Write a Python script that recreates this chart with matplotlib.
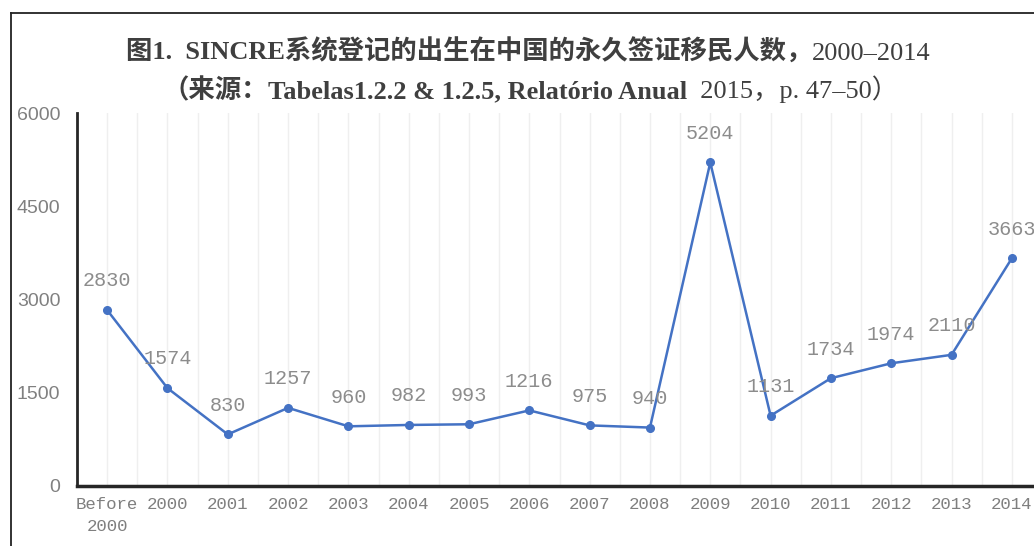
import matplotlib
matplotlib.use("Agg")
import matplotlib.pyplot as plt
from matplotlib.lines import Line2D

categories = ["Before\n2000", "2000", "2001", "2002", "2003", "2004", "2005", "2006",
              "2007", "2008", "2009", "2010", "2011", "2012", "2013", "2014"]
values = [2830, 1574, 830, 1257, 960, 982, 993, 1216, 975, 940, 5204, 1131, 1734, 1974, 2110, 3663]
yticks = [0, 1500, 3000, 4500, 6000]

W, H = 1034, 546
fig = plt.figure(figsize=(W / 100, H / 100), dpi=100)
fig.patch.set_facecolor("white")

left_px, right_px, top_px, bot_px = 77, 1042, 113, 486
ax = fig.add_axes([left_px / W, 1 - bot_px / H, (right_px - left_px) / W, (bot_px - top_px) / H])

x = list(range(len(categories)))
ax.plot(x, values, color="#4472C4", linewidth=1.8, marker="o", markersize=5.5, zorder=3, clip_on=False)

lab_font = ["Liberation Mono", "DejaVu Sans"]
for xi, v in zip(x, values):
    ax.annotate(str(v), (xi, v), xytext=(0, 21), textcoords="offset points",
                ha="center", va="center", fontsize=14.5, color="#8C8C8C", family=lab_font,
                annotation_clip=False)

ax.set_xlim(-0.5, len(categories) - 0.5)
ax.set_ylim(0, 6000)
ax.set_yticks(yticks)
ax.set_yticklabels([str(t) for t in yticks], family=["Liberation Sans"], fontsize=14, color="#808080")
ax.set_xticks(x)
ax.set_xticklabels(categories, family=lab_font, fontsize=12.5, color="#7F7F7F", linespacing=1.6)
ax.set_xticks([i + 0.5 for i in x], minor=True)
ax.tick_params(axis="both", which="both", length=0)
ax.tick_params(axis="y", pad=12)
ax.tick_params(axis="x", pad=8)
ax.grid(axis="x", which="both", color="#EFEFEF", linewidth=1.0, zorder=0)
ax.set_axisbelow(True)
for s in ["top", "right"]:
    ax.spines[s].set_visible(False)
ax.spines["left"].set_linewidth(2.0)
ax.spines["left"].set_color("#262626")
ax.spines["bottom"].set_linewidth(2.5)
ax.spines["bottom"].set_color("#262626")

fig.add_artist(Line2D([11 / W, 1.0], [1 - 13 / H, 1 - 13 / H], color="#222222", linewidth=1.3))
fig.add_artist(Line2D([11 / W, 11 / W], [0, 1 - 13 / H], color="#222222", linewidth=1.3))

fam = ["Liberation Serif", "Noto Sans CJK SC"]
tcol = "#3F3F3F"

def build_line(pieces, y_px, size):
    texts = []
    prev = None
    for s, w in pieces:
        if prev is None:
            t = fig.text(0, 1 - y_px / H, s, fontsize=size, fontweight=w, family=fam,
                         color=tcol, ha="left", va="baseline")
        else:
            t = fig.add_artist(matplotlib.text.Annotation(
                s, xy=(1, 0), xycoords=prev, xytext=(0, 0), textcoords="offset points",
                fontsize=size, fontweight=w, family=fam, color=tcol, ha="left", va="bottom"))
        texts.append(t)
        prev = t
    return texts

line1 = build_line([("图1.  SINCRE系统登记的出生在中国的永久签证移民人数，", "bold"),
                    ("2000–2014", "normal")], 60, 19)
line2 = build_line([("（来源：", "bold"),
                    ("Tabelas1.2.2 & 1.2.5, Relatório Anual", "bold"),
                    ("  2015，p. 47–50）", "normal")], 98, 19)

fig.canvas.draw()
r = fig.canvas.get_renderer()
for texts, cx in [(line1, 528), (line2, 530)]:
    x0 = texts[0].get_window_extent(r).x0
    x1 = texts[-1].get_window_extent(r).x1
    shift = cx - (x0 + x1) / 2
    px, py = texts[0].get_position()
    texts[0].set_position((px + shift / W, py))

fig.savefig("out.png", dpi=100)
